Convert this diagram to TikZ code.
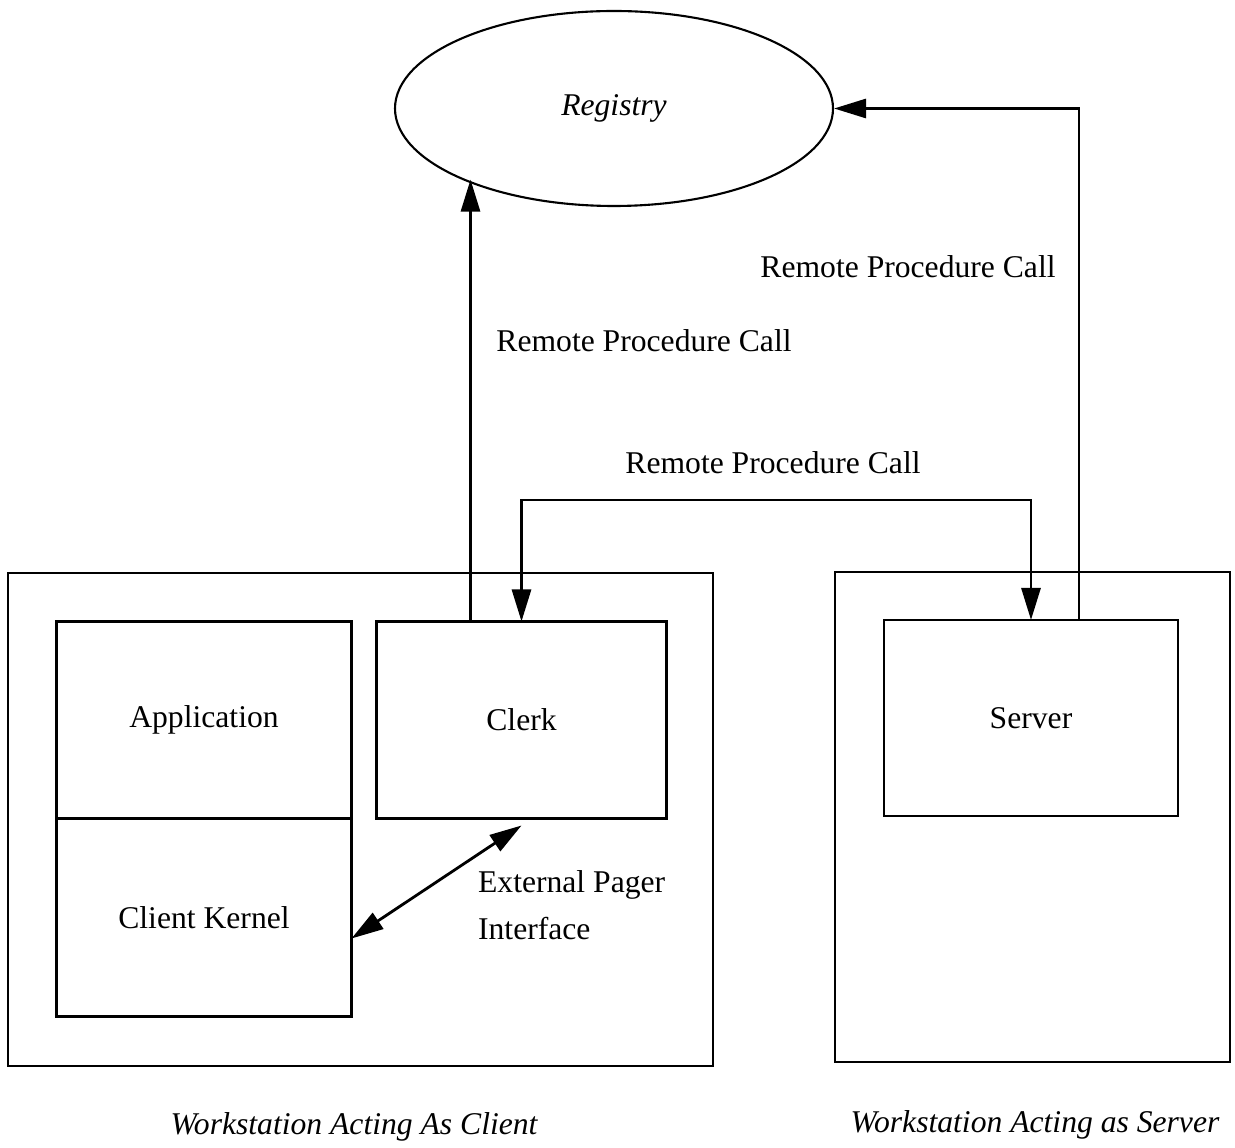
\documentclass[tikz,border=0pt]{standalone}
\usepackage{fontspec}
\setmainfont{Liberation Serif}
\usetikzlibrary{arrows.meta,positioning,shapes.geometric}

\begin{document}
\begin{tikzpicture}[
  box/.style={draw, line width=1.2pt, inner sep=0pt, outer sep=0pt, font=\fontsize{18}{22}\selectfont},
  station/.style={draw, line width=1.2pt, inner sep=0pt},
  lbl/.style={font=\fontsize{18}{22}\selectfont, inner sep=1pt},
  caption/.style={lbl, font=\fontsize{18}{22}\selectfont\itshape},
  arr/.style={-{Triangle[length=0.64cm, width=0.38cm]}, line width=1.6pt},
  biarr/.style={{Triangle[length=0.64cm, width=0.38cm]}-{Triangle[length=0.64cm, width=0.38cm]}, line width=1.6pt}
]
  \useasboundingbox (0,0) rectangle (24.7,-22.96);

  % the two workstations
  \node[station, minimum width=14.1cm, minimum height=9.86cm] (client) at (7.21,-16.39) {};
  \node[station, minimum width=7.9cm, minimum height=9.8cm] (serverws) at (20.65,-16.34) {};

  \node[ellipse, draw, line width=1.2pt, minimum width=8.76cm, minimum height=3.9cm, font=\fontsize{18}{22}\selectfont\itshape] (registry) at (12.28,-2.17) {Registry};

  \node[box, minimum width=5.9cm, minimum height=3.94cm] (app) at (4.08,-14.4) {Application};
  \node[box, minimum width=5.9cm, minimum height=3.96cm, below=0pt of app] (kernel) {Client Kernel};
  \node[box, minimum width=5.8cm, minimum height=3.94cm, right=0.5cm of app] (clerk) {Clerk};
  \node[box, minimum width=5.88cm, minimum height=3.92cm] (server) at (20.62,-14.36) {Server};

  \coordinate (clerkout) at ([xshift=-1.02cm]clerk.north);
  \coordinate (srvout) at ([xshift=0.96cm]server.north);
  \coordinate (bus) at (15,-10);

  \draw[arr] (clerkout) -- (clerkout |- registry.205);
  \draw[arr] (srvout) |- (registry.east);
  \draw[biarr] (clerk.north) -- (clerk.north |- bus) -| (server.north);
  \draw[biarr] ([yshift=-0.42cm]kernel.east) -- ([yshift=-0.14cm]clerk.south);

  \node[lbl] (rpcsrv) at (18.16,-5.34) {Remote Procedure Call};
  \node[lbl] (rpcclerk) at (12.88,-6.82) {Remote Procedure Call};
  \node[lbl] (rpcbus) at (15.46,-9.26) {Remote Procedure Call};
  \node[lbl, align=left, anchor=west, font=\fontsize{18}{27}\selectfont] (pager) at (9.52,-18.1) {External Pager\\ Interface};

  \node[caption] (capclient) at (7.08,-22.54) {Workstation Acting As Client};
  \node[caption] (capserver) at (20.7,-22.5) {Workstation Acting as Server};
\end{tikzpicture}
\end{document}
